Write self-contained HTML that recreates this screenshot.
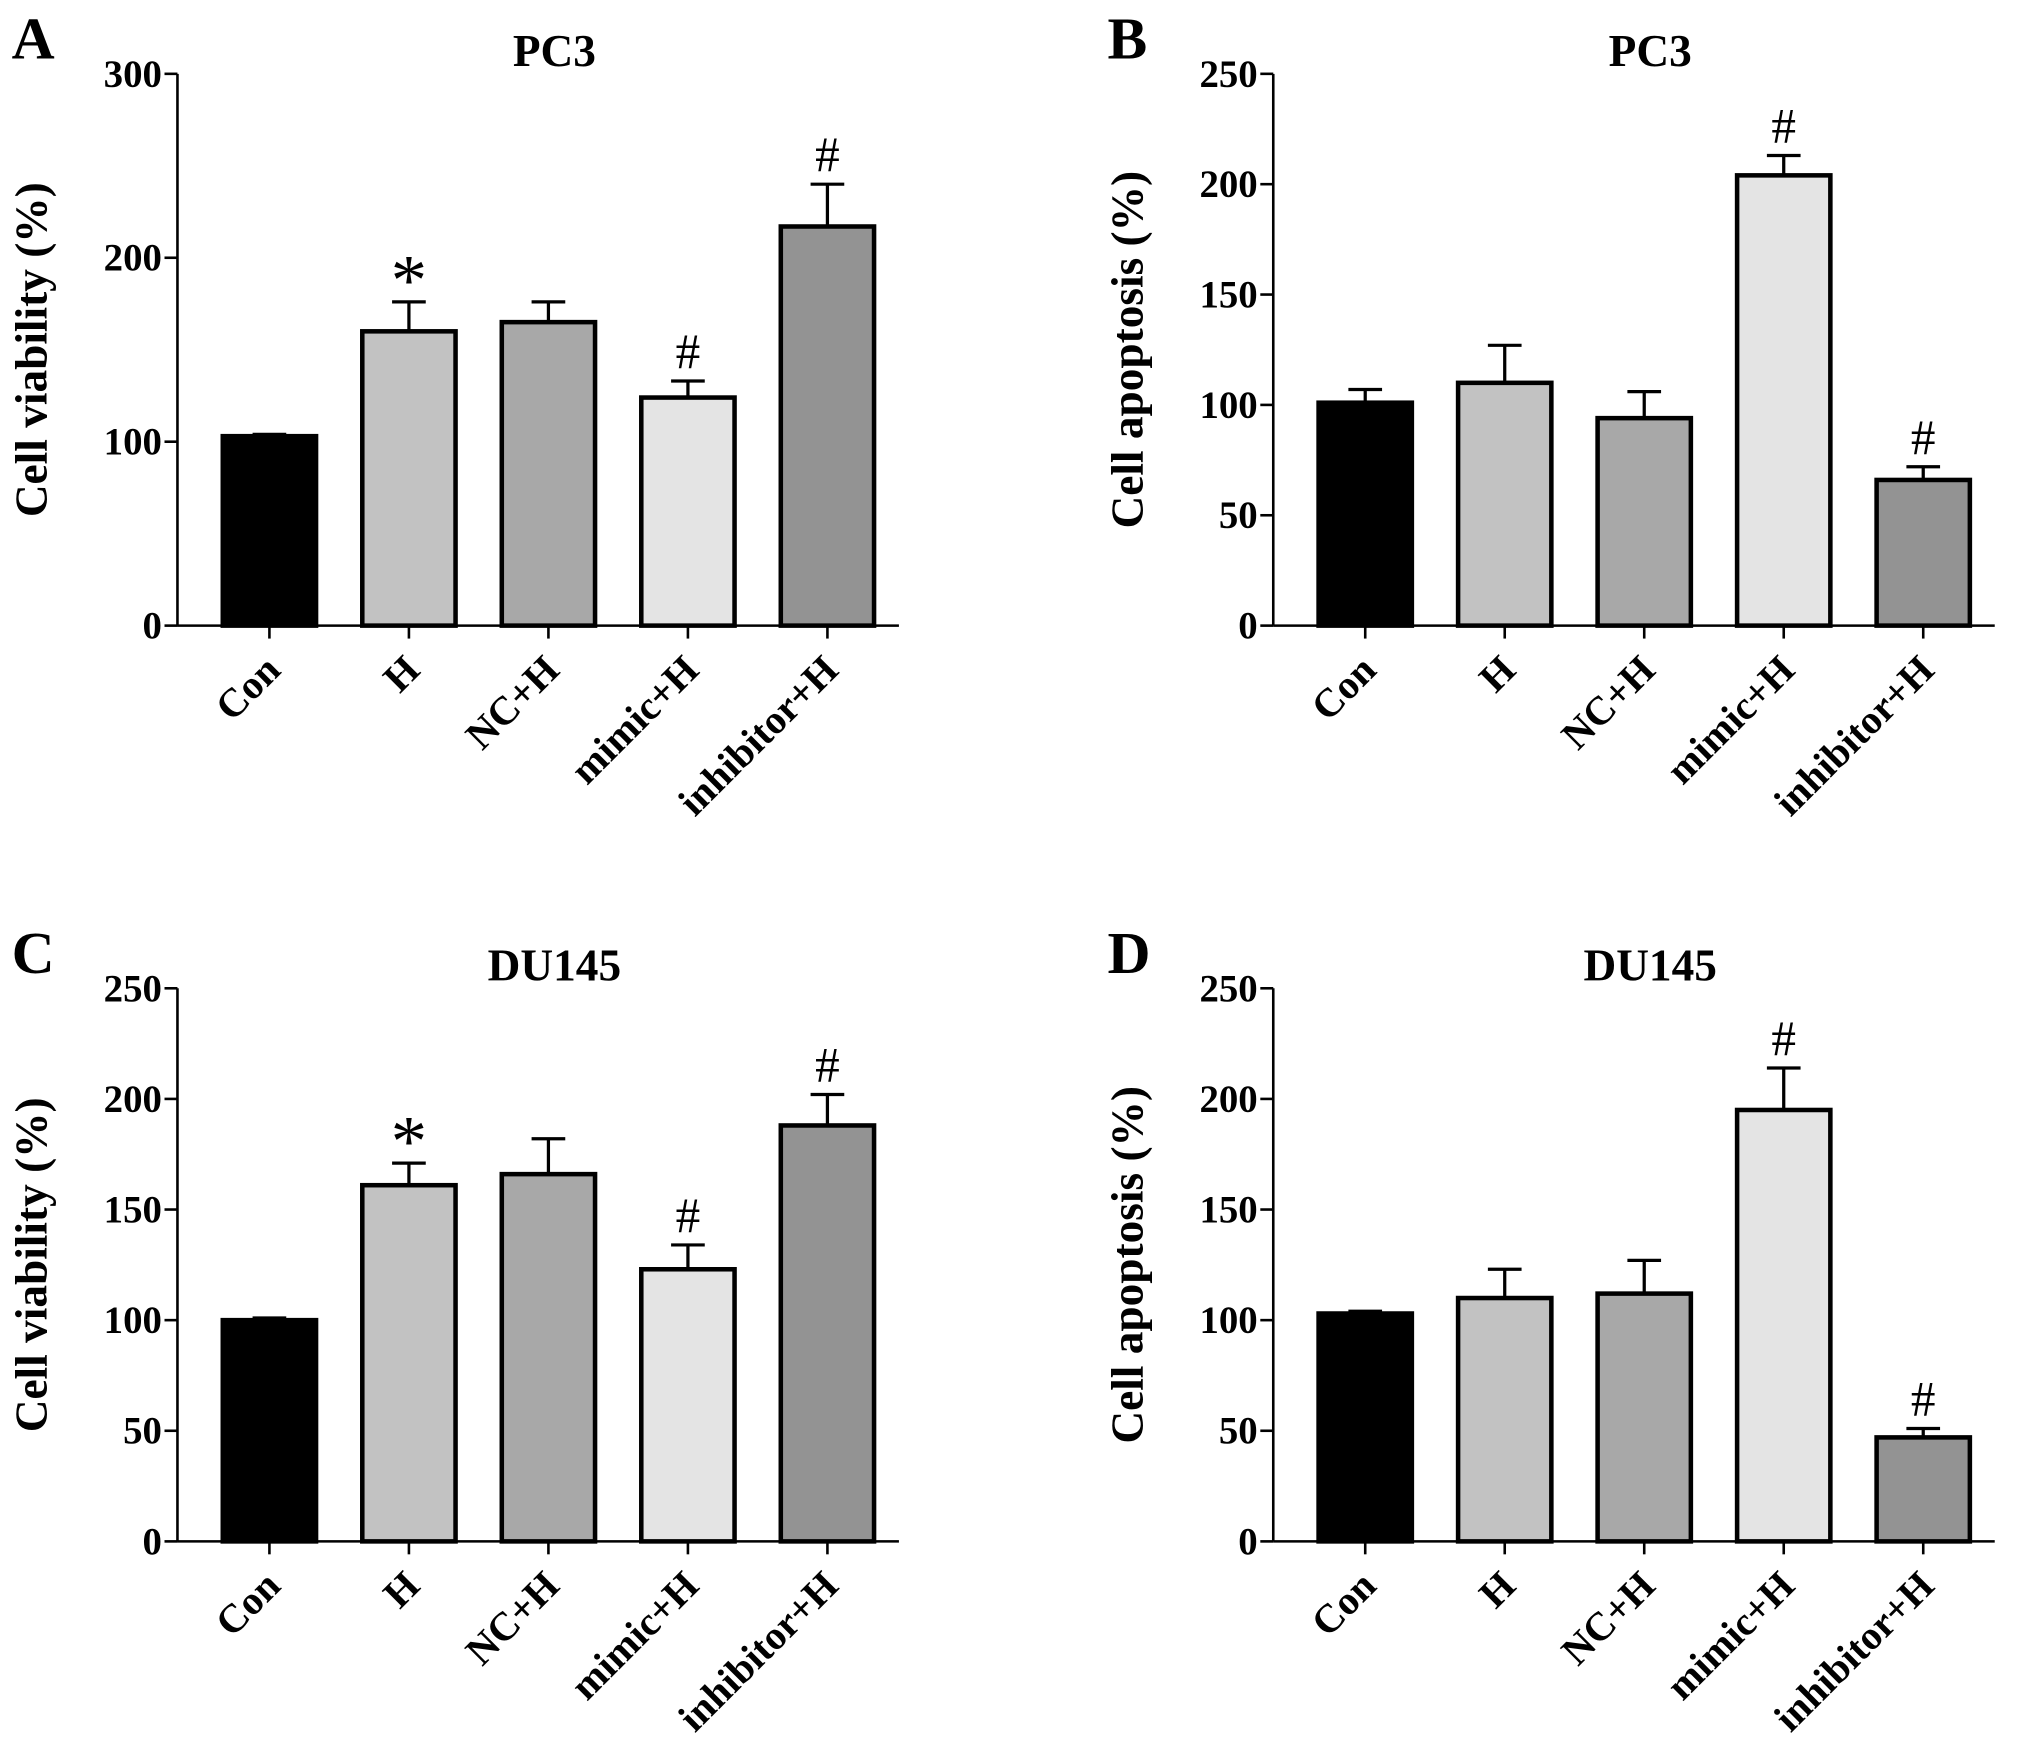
<!DOCTYPE html>
<html><head><meta charset="utf-8"><style>
html,body{margin:0;padding:0;background:#fff;}
svg{display:block;font-family:"Liberation Serif",serif;}
</style></head><body>
<svg id="fig" width="2031" height="1752" viewBox="0 0 1568 1352.6" xmlns="http://www.w3.org/2000/svg"></svg>
<script>
const categories = ["Con","H","NC+H","mimic+H","inhibitor+H"];
const fills = ["#000000","#c2c2c2","#a8a8a8","#e4e4e4","#939393"];
const valuesA = [103,160,165,124,217];
const errorsA = [1,16,11,9,23];
const marksA = ["","*","","#","#"];
const valuesB = [101,110,94,204,66];
const errorsB = [6,17,12,9,6];
const marksB = ["","","","#","#"];
const valuesC = [100,161,166,123,188];
const errorsC = [1,10,16,11,14];
const marksC = ["","*","","#","#"];
const valuesD = [103,110,112,195,47];
const errorsD = [1,13,15,19,4];
const marksD = ["","","","#","#"];
const ticksA = [0,100,200,300];
const ticks250 = [0,50,100,150,200,250];

const NS="http://www.w3.org/2000/svg";
const svg=document.getElementById('fig');
function mk(tag,attrs,parent){const e=document.createElementNS(NS,tag);for(const k in attrs)e.setAttribute(k,attrs[k]);(parent||svg).appendChild(e);return e;}

function panel(p){
  const g=mk('g',{});
  
  
  const x0=p.x0, yTop=p.yTop, yZero=p.yZero, max=p.ticks[p.ticks.length-1];
  const y=v=>yZero-(v/max)*(yZero-yTop);
  const xc=i=>x0+71+i*107.7;
  const L=mk('text',{x:p.x0-128,y:yTop-12,'font-size':46,'font-weight':'bold'},g);L.textContent=p.letter;
  
  
  const T=mk('text',{x:x0+291,y:yTop-6,'font-size':35,'font-weight':'bold','text-anchor':'middle'},g);T.textContent=p.title;
  
  
  const Y=mk('text',{transform:`translate(${x0-101},${(yTop+yZero)/2}) rotate(-90)`,'font-size':35,'font-weight':'bold','text-anchor':'middle'},g);Y.textContent=p.ytitle;
  
  
  p.values.forEach((v,i)=>{
    const cx=xc(i), top=y(v), et=y(v+p.errors[i]);
    const ln=mk('line',{x1:cx,x2:cx,y1:top,y2:et,stroke:'#000','stroke-width':2.5},g);
    
    
    const cap=mk('line',{x1:cx-13,x2:cx+13,y1:et,y2:et,stroke:'#000','stroke-width':2.5},g);
    
    
    const r=mk('rect',{x:cx-36,y:top,width:72,height:yZero-top,fill:fills[i],stroke:'#000','stroke-width':3.5},g);
    
    
    if(p.marks[i]){
      const star=p.marks[i]=='*';
      const m=mk('text',{x:cx,y:et-(star?-2:10),'font-size':star?56:38,'text-anchor':'middle'},g);m.textContent=p.marks[i];
      
      
    }
    const tk=mk('line',{x1:cx,x2:cx,y1:yZero,y2:yZero+10,stroke:'#000','stroke-width':2},g);
    
    
    const lb=mk('text',{transform:`translate(${cx+10},${yZero+36}) rotate(-45)`,'font-size':31,'font-weight':'bold','text-anchor':'end'},g);lb.textContent=categories[i];
    
    
  });
  const ya=mk('line',{x1:x0,x2:x0,y1:yTop,y2:yZero,stroke:'#000','stroke-width':2},g);
  
  
  const xa=mk('line',{x1:x0,x2:x0+557,y1:yZero,y2:yZero,stroke:'#000','stroke-width':2},g);
  
  
  p.ticks.forEach(t=>{
    const tk=mk('line',{x1:x0-10,x2:x0,y1:y(t),y2:y(t),stroke:'#000','stroke-width':2},g);
    
    
    const tl=mk('text',{x:x0-12,y:y(t)+10,'font-size':30,'font-weight':'bold','text-anchor':'end'},g);tl.textContent=t;
    
    
  });
}
panel({letter:'A',title:'PC3',ytitle:'Cell viability (%)',x0:137,yTop:57,yZero:483,ticks:ticksA,values:valuesA,errors:errorsA,marks:marksA});
panel({letter:'B',title:'PC3',ytitle:'Cell apoptosis (%)',x0:983,yTop:57,yZero:483,ticks:ticks250,values:valuesB,errors:errorsB,marks:marksB});
panel({letter:'C',title:'DU145',ytitle:'Cell viability (%)',x0:137,yTop:763,yZero:1190,ticks:ticks250,values:valuesC,errors:errorsC,marks:marksC});
panel({letter:'D',title:'DU145',ytitle:'Cell apoptosis (%)',x0:983,yTop:763,yZero:1190,ticks:ticks250,values:valuesD,errors:errorsD,marks:marksD});
</script>
</body></html>
